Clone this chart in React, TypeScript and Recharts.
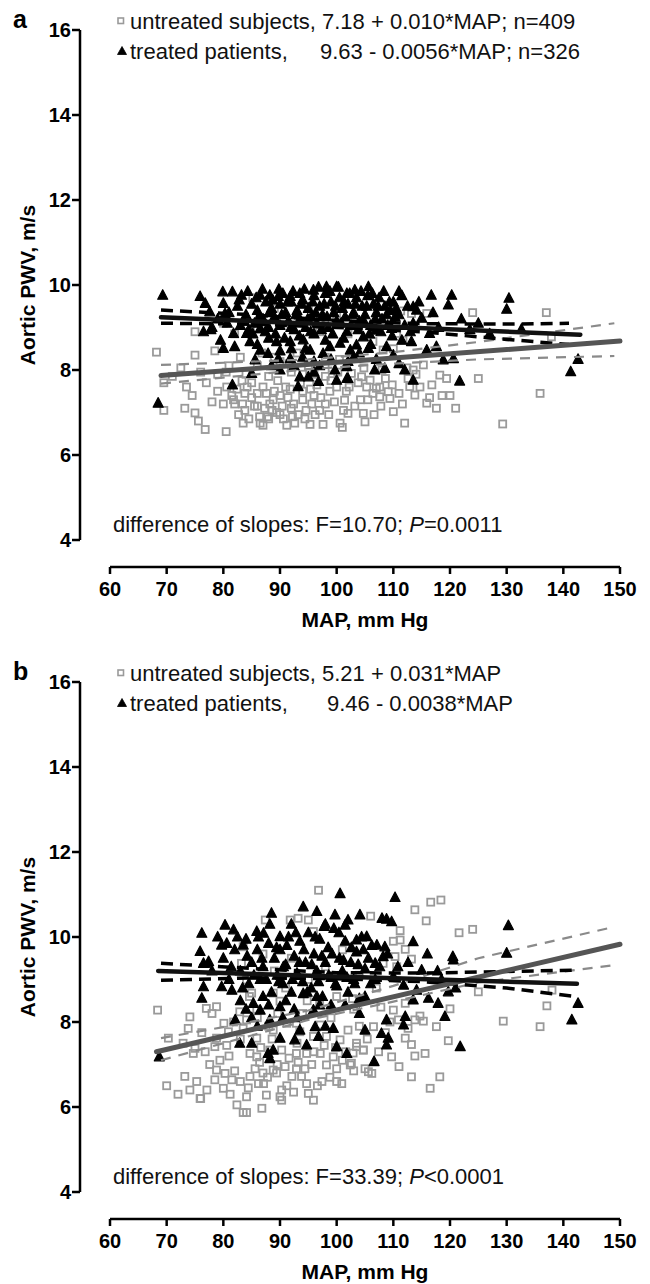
import React from 'react';
import { ScatterChart, Scatter, XAxis, YAxis } from 'recharts';

// MAP (x) and aortic PWV (y)
const xTicks = [60, 70, 80, 90, 100, 110, 120, 130, 140, 150];
const yTicks = [4, 6, 8, 10, 12, 14, 16];

const aUntreated = [
  [68.2, 8.42], [69.5, 7.05], [73.2, 7.1], [74.5, 7.4], [73.5, 7.6], [75, 8.35], [75, 8.9], [75, 6.99], [75.6, 6.8], [76.8, 6.6],
  [78.5, 8.45], [79, 7.5], [80, 7.2], [80.5, 6.55], [80.6, 7.6], [81.5, 7.4], [82, 7.2], [82.4, 7.55], [83.3, 7.75], [83.8, 7.45],
  [83.8, 7.05], [83.5, 6.75], [85, 7.35], [84.5, 6.85], [85.2, 9.7], [86, 7.15], [86.5, 6.75], [87, 6.7], [87.3, 7.1], [87.8, 6.9],
  [88.2, 7.2], [88.8, 7.3], [89.4, 7.0], [90, 7.4], [90.6, 6.85], [91.2, 6.7], [91.8, 7.55], [92.4, 7.2], [92.6, 6.75], [93.2, 6.95],
  [94, 7.5], [94.4, 6.85], [95.3, 6.72], [95.6, 7.2], [96.5, 7.65], [97, 7.05], [97.6, 6.72], [98.8, 7.5], [99.2, 8.05], [100, 7.6],
  [100.6, 6.75], [101, 6.65], [101.4, 7.29], [101.7, 7.5], [102, 6.98], [102.6, 7.92], [103.2, 8.43], [104.4, 7.84], [104.7, 6.98], [105, 6.78],
  [105.3, 7.6], [105.9, 7.76], [106.4, 7.45], [106.4, 8.67], [107, 7.57], [107.6, 7.37], [107.6, 7.6], [108.2, 8.47], [109.1, 7.49], [109.4, 7.33],
  [110, 8.5], [110, 7.02], [110.6, 8.86], [111.3, 9.39], [111.7, 8.7], [112, 6.75], [112.6, 7.8], [112.9, 7.61], [113.2, 9.33], [113.5, 8.0],
  [113.8, 7.41], [114.7, 7.6], [115.3, 8.12], [115.9, 9.33], [115.9, 7.22], [116.4, 7.35], [117.6, 7.1], [118.2, 7.88], [119.4, 7.8], [120, 7.4],
  [124, 9.35], [125, 7.8], [129.3, 6.73], [135.9, 7.45], [137, 9.35], [137.9, 8.78],
  [84, 7.9], [86, 8.1], [88, 7.85], [90, 8.2], [92, 7.95], [93, 8.4], [95, 8.1], [96, 7.9], [98, 8.3], [99, 7.75],
  [91, 7.6], [89, 7.5], [87, 7.6], [85, 7.7], [94, 7.3], [96, 7.4], [98, 7.2], [92, 7.1], [90, 6.95], [88, 6.85],
  [86, 7.45], [83, 8.3], [81, 8.1], [79, 7.9], [77, 7.7], [80, 9.1], [82, 8.85], [86, 8.95], [92, 9.0], [97, 8.9],
  [102, 8.85], [100, 9.3], [95, 9.5], [89, 9.45], [76, 7.95], [78, 7.25], [71, 7.85], [72.5, 8.05], [69.5, 7.7],
  [80.5, 7.95], [81.8, 7.3], [82.7, 6.95], [84.2, 7.6], [85.5, 7.15], [86.4, 6.9], [87.6, 7.45], [88.6, 7.05], [89.6, 7.75], [90.4, 7.15],
  [91.4, 7.35], [92.2, 6.9], [93.6, 7.7], [94.6, 7.05], [95.4, 7.55], [96.2, 6.95], [97.2, 7.35], [98, 7.85], [98.6, 6.95], [99.6, 7.25],
  [100.2, 7.95], [101.2, 7.05], [102.2, 7.6], [103.2, 7.15], [103.8, 7.7], [104.2, 7.3], [105.5, 7.3], [106.6, 6.95], [107.8, 7.15], [108.6, 7.8],
  [109.8, 7.65], [111, 7.45], [111.6, 7.2], [112.4, 8.05], [114, 7.9], [116.8, 7.65], [118.6, 7.4], [121, 7.1], [89, 8.3], [94, 7.9],
  [100.5, 8.25], [104.8, 8.05], [108, 8.0], [83.4, 7.2], [86.8, 8.4], [91.6, 8.15],
];

const aTreated = [
  [68.5, 7.22], [69.3, 9.76], [75.9, 9.73], [76.8, 9.57], [77.6, 9.37], [76.5, 8.9], [79.9, 9.84], [81.6, 9.84], [83.2, 9.76], [80, 9.57],
  [80.3, 9.33], [80, 8.51], [82, 8.55], [81.8, 8.86], [84.7, 8.67], [86.5, 9.76], [88.2, 9.76], [89.7, 9.73], [91.8, 9.73], [93.5, 9.8],
  [95.9, 9.88], [98.2, 9.96], [100, 9.96], [101.8, 9.8], [103.2, 9.88], [86.5, 8.47], [87.9, 8.39], [89.7, 8.27], [91.8, 8.27], [93.5, 7.84],
  [93.2, 7.61], [95, 7.84], [96.8, 7.73], [100, 7.76], [101.8, 7.8], [101.8, 8.08], [99.7, 8.0], [97.6, 8.39], [95.3, 8.47], [98.8, 8.55],
  [100.6, 8.63], [102.4, 8.47], [85.6, 8.24], [85, 7.92], [81.6, 7.65], [84.1, 8.86], [86.5, 8.98], [89.4, 8.67], [91.8, 8.67], [94.1, 8.71],
  [105.6, 9.96], [116.7, 9.76], [120.3, 9.76], [119.7, 9.53], [130.4, 9.69], [130, 9.43], [132.6, 8.96], [142.6, 8.25], [141.3, 7.96], [121.7, 7.74],
  [120.6, 8.27], [117.6, 8.55], [113.5, 7.76], [112, 8.0], [113.2, 8.67], [114.1, 9.41], [115, 9.22], [113.5, 9.49], [110.3, 9.25], [111.5, 8.7],
  [108.8, 8.55], [108.5, 8.04], [106.7, 8.0], [102, 7.8], [105.6, 8.51], [103.5, 8.59], [101.2, 8.75], [104.7, 8.78], [107, 8.94], [109.7, 8.98],
  [113.5, 9.1], [116.4, 8.86], [118.8, 8.24], [115.9, 8.47],
  [84, 9.3], [85, 9.55], [85.5, 9.1], [86, 9.4], [87, 9.2], [87.5, 9.6], [88, 9.0], [88.5, 9.45], [89, 9.25], [90, 9.55],
  [90, 9.05], [90.5, 9.8], [91, 9.35], [91.5, 9.15], [92, 9.6], [92.5, 8.95], [93, 9.4], [93.5, 9.2], [94, 9.65], [94.5, 9.0],
  [95, 9.45], [95.5, 9.25], [96, 9.75], [96.5, 9.1], [97, 9.5], [97.5, 9.3], [98, 9.8], [98.5, 9.0], [99, 9.6], [99.5, 9.35],
  [100, 9.15], [100.5, 9.7], [101, 9.45], [101.5, 9.25], [102, 9.55], [102.5, 9.05], [103, 9.35], [103.5, 9.7], [104, 9.15], [104.5, 9.5],
  [105, 9.3], [105.5, 9.75], [106, 9.05], [106.5, 9.55], [107, 9.35], [107.5, 9.7], [108, 9.2], [108.5, 9.5], [109, 9.05], [109.5, 9.4],
  [110, 9.6], [111, 9.3], [111.5, 9.75], [112, 9.05], [79, 9.2], [78, 9.0], [82.5, 9.5], [83, 9.05], [84.5, 8.95], [96, 8.85],
  [98, 8.7], [92, 8.5], [94, 8.3], [97, 8.1], [90, 8.0], [88, 8.75], [106, 8.6], [110, 8.35], [103, 8.3], [96, 7.95], [92.5, 8.1],
  [82.8, 9.65], [83.6, 9.15], [84.3, 9.85], [85.2, 8.85], [85.8, 9.7], [86.3, 9.25], [86.9, 9.9], [87.4, 8.9], [88.1, 9.35], [88.7, 9.65],
  [89.2, 8.85], [89.8, 9.9], [90.3, 9.3], [90.8, 8.75], [91.3, 9.6], [91.9, 9.0], [92.3, 9.85], [92.8, 9.3], [93.4, 8.8], [93.8, 9.55],
  [94.3, 9.9], [94.9, 9.2], [95.4, 8.9], [95.8, 9.6], [96.3, 9.35], [96.8, 9.95], [97.3, 8.95], [97.8, 9.55], [98.3, 9.25], [98.8, 9.85],
  [99.3, 8.85], [99.8, 9.5], [100.3, 9.95], [100.8, 9.1], [101.3, 9.6], [101.8, 8.9], [102.3, 9.8], [102.8, 9.3], [103.3, 9.55], [103.8, 8.95],
  [104.3, 9.85], [104.8, 9.15], [105.3, 9.5], [105.8, 8.85], [106.3, 9.8], [106.8, 9.2], [107.3, 9.5], [107.8, 8.9], [108.3, 9.85], [108.8, 9.3],
  [109.3, 9.6], [109.8, 8.8], [110.5, 9.45], [111, 9.85], [112.5, 9.5], [113, 8.9], [114.5, 9.6], [117, 9.35], [118, 9.0], [122, 9.2],
  [123.5, 8.95], [125, 9.1], [127, 8.85], [81, 9.35], [79.5, 8.7], [77.8, 8.95], [80.7, 9.1], [86, 8.6], [90, 8.45], [94.5, 8.5],
  [99, 8.25], [104, 8.4], [107, 8.25], [111, 8.15], [96, 8.2], [88.5, 8.1], [102, 8.2],
];

const bUntreated = [
  [68.4, 8.28], [70, 6.5], [73.2, 6.72], [74.1, 6.4], [75.3, 6.6], [75.9, 6.2], [77.1, 6.4], [80, 6.44], [82.4, 6.05], [83.5, 5.87],
  [84.1, 5.87], [86.8, 5.97], [84.1, 6.24], [87.6, 6.28], [90, 6.24], [90.3, 6.16], [86.2, 6.55], [87.1, 6.55], [84.7, 6.72], [85.6, 6.9],
  [88.8, 6.87], [90.9, 6.95], [92.9, 6.9], [94.7, 6.55], [95, 6.32], [95.9, 6.16], [93.8, 6.72], [97.4, 6.6], [98.2, 6.99], [100, 6.9],
  [100.9, 6.55], [102.4, 6.99], [105, 6.9], [92.1, 6.72], [91.2, 6.5], [90.3, 6.4], [78.8, 6.87], [80.3, 6.79], [81.5, 6.64], [78.5, 6.64],
  [74.7, 7.26], [75, 7.38], [76.8, 7.3], [78.5, 7.42], [78.8, 7.62], [80.1, 7.97], [80.9, 7.77], [81.8, 8.0], [83.5, 7.85], [84.1, 8.05],
  [82.9, 8.24], [74.1, 8.12], [77, 8.32], [78.8, 8.36], [78, 8.2], [70.3, 7.62], [72.9, 7.5], [87.4, 10.4], [91.8, 10.4], [93.2, 10.44],
  [95, 10.4], [96.8, 11.1], [95.9, 10.13], [83.5, 9.77], [83.2, 9.38], [84.1, 8.99], [85, 8.68], [85.9, 8.3], [88.8, 8.68], [90, 8.49],
  [91.2, 7.97], [93.5, 7.77], [95.9, 7.66], [98.2, 7.66], [100.6, 7.58], [102, 7.81], [103.5, 7.5], [104.7, 7.34], [102.9, 7.27], [99.4, 7.18],
  [97.1, 7.26], [94.7, 7.26], [92.9, 7.26], [90.3, 7.34], [88.2, 7.34], [85.9, 7.18], [84.7, 7.26], [85.9, 7.62], [88.8, 7.81], [92.9, 7.97],
  [97.1, 7.93], [106, 10.49], [113.8, 10.64], [116.6, 10.82], [118.4, 10.87], [115.8, 10.38], [121.6, 10.1], [124, 10.18], [111.2, 10.15], [111.2, 9.93],
  [110, 9.9], [112.1, 9.71], [110.3, 9.54], [113.2, 9.48], [108.2, 9.38], [110.6, 9.3], [138, 8.75], [137.1, 8.38], [129.4, 8.02], [135.9, 7.89],
  [120, 8.31], [117.6, 7.89], [115.3, 8.02], [113.8, 8.05], [114.7, 8.14], [119.7, 7.56], [113.2, 7.47], [112.1, 7.62], [115.6, 7.26], [113.8, 7.2],
  [109.7, 7.18], [113.2, 6.71], [118.2, 6.71], [110, 8.28], [109.4, 8.0], [110.9, 8.05], [106.5, 7.89], [116.5, 6.44], [112.1, 8.44], [105.6, 6.83],
  [106.2, 6.79], [104.7, 7.34], [103.5, 7.42], [102.6, 7.03], [125, 8.71],
  [89, 9.2], [92, 9.5], [95, 9.0], [98, 9.3], [101, 9.7], [104, 9.1], [107, 8.8], [100, 8.6], [97, 8.4], [94, 8.2],
  [91, 8.8], [87, 9.6], [99, 8.1], [103, 8.3], [96, 7.3], [89.5, 7.0], [87, 6.8], [93, 7.5], [101, 7.1], [100, 6.6],
  [83, 6.6], [81, 7.2], [88, 7.9], [86, 8.1], [76, 6.2], [72, 6.3],
  [80.6, 7.45], [82, 6.85], [83, 7.6], [84.4, 6.45], [86.4, 7.05], [87.8, 6.7], [88.6, 7.6], [89.4, 6.8], [91.6, 7.15], [92.4, 6.35],
  [93.2, 7.05], [94.4, 6.9], [95.6, 7.0], [96.6, 6.5], [97.8, 7.45], [98.8, 6.7], [99.8, 7.4], [101.6, 7.3], [103, 6.85], [104, 7.9],
  [105.4, 7.6], [107.4, 7.3], [108.6, 7.75], [111, 6.95], [112.6, 7.85], [86.6, 7.4], [79.4, 7.1], [81.2, 6.3], [77.6, 7.0], [76.2, 7.75],
  [73.8, 7.85], [89.6, 8.2], [94.8, 8.5], [102.8, 8.55], [107.8, 8.35], [84.6, 8.6],
];

const bTreated = [
  [68.7, 7.18], [76.2, 10.09], [75.9, 9.66], [76.5, 9.38], [77.4, 9.42], [79.7, 9.81], [80.3, 10.28], [81.8, 10.17], [83.5, 9.81], [85.9, 10.13],
  [87.1, 10.09], [88.5, 10.56], [90, 10.01], [94.1, 10.71], [96.5, 10.6], [99.7, 10.52], [100.6, 11.02], [101.5, 10.28], [104.1, 10.52], [76.5, 8.83],
  [76.2, 8.56], [79.7, 8.83], [81.5, 8.75], [82.1, 8.05], [82.9, 7.5], [85, 7.5], [87.9, 7.26], [88.2, 7.14], [88.8, 7.34], [90, 7.62],
  [92.6, 7.58], [93.5, 7.81], [94.7, 7.46], [96.8, 7.66], [100, 7.42], [101.8, 7.26], [99.4, 7.85], [96.2, 7.89], [95.9, 8.28], [94.1, 8.67],
  [90, 8.36], [88.2, 8.05], [86.5, 8.28], [85.3, 8.44], [110.3, 10.93], [108, 10.44], [108.8, 10.42], [109.7, 10.36], [113.5, 9.89], [108.5, 9.77],
  [130.3, 10.27], [130, 9.62], [120.5, 9.54], [120.6, 9.46], [115, 9.22], [117.8, 9.2], [119.7, 8.71], [117.9, 8.44], [119.1, 8.13], [116.2, 8.56],
  [113.5, 8.52], [112.1, 8.13], [111.8, 7.93], [108.8, 8.05], [107.9, 7.73], [109.1, 7.62], [108.8, 7.46], [105, 7.81], [121.8, 7.42], [106.6, 7.07],
  [142.6, 8.44], [141.5, 8.05], [103.5, 9.93], [105.3, 10.01], [107.1, 9.81], [108.2, 9.54], [104.7, 9.7], [106.8, 9.38], [110, 9.07], [111.8, 8.87],
  [114.1, 8.75],
  [80, 9.5], [81, 9.0], [82, 9.7], [83, 9.2], [84, 9.95], [84.5, 8.9], [85, 9.4], [86, 9.7], [86.5, 9.0], [87, 9.3],
  [88, 9.85], [88.5, 8.7], [89, 9.5], [89.5, 9.1], [90, 9.7], [90.5, 8.9], [91, 9.35], [91.5, 10.0], [92, 8.7], [92.5, 9.55],
  [93, 9.15], [93.5, 9.9], [94, 8.95], [94.5, 9.4], [95, 10.1], [95.5, 8.8], [96, 9.6], [96.5, 9.2], [97, 9.95], [97.5, 8.6],
  [98, 9.4], [98.5, 9.75], [99, 9.05], [99.5, 10.2], [100, 8.85], [100.5, 9.5], [101, 9.2], [101.5, 9.9], [102, 8.7], [102.5, 9.4],
  [103, 9.0], [103.5, 9.65], [104, 8.55], [105, 9.25], [106, 8.9], [83, 8.5], [87, 8.6], [91, 8.5], [97, 8.4], [78, 9.2],
  [79, 10.0], [102, 10.4], [98, 10.3], [92, 10.3], [85, 8.1], [93, 8.1], [104, 8.2], [99, 8.4],
  [80.6, 9.85], [81.4, 9.3], [82.5, 10.0], [83.4, 8.8], [84.2, 9.55], [85.4, 9.1], [86.2, 10.0], [86.8, 9.5], [87.6, 9.0], [88.2, 10.3],
  [89.4, 9.75], [89.8, 8.95], [90.6, 9.3], [91.2, 9.8], [92.2, 9.0], [92.8, 10.1], [93.4, 9.4], [94.2, 9.7], [94.8, 8.7], [95.6, 9.35],
  [96.2, 10.0], [96.8, 8.95], [97.4, 9.55], [97.8, 10.25], [98.6, 9.1], [99.2, 9.6], [99.8, 8.9], [100.4, 10.1], [101.2, 9.45], [101.8, 9.05],
  [102.6, 9.75], [103.2, 8.9], [103.8, 9.35], [104.4, 10.0], [105.6, 9.5], [106.2, 9.8], [106.8, 9.0], [107.6, 9.3], [109, 9.6], [110.8, 9.3],
  [112.6, 9.4], [116, 9.6], [118.5, 9.0], [121, 8.8], [84, 8.3], [88, 8.4], [92.5, 8.3], [96.5, 8.6], [101.5, 8.4], [105, 8.6],
  [90.5, 8.1], [98, 7.9], [86, 7.9],
];

// regression lines and their 95% bands
const aFitUntreated = [[69, 7.87], [150, 8.68]];
const aUpUntreated = [[69, 8.12], [80, 8.17], [95, 8.25], [110, 8.42], [125, 8.66], [149, 9.1]];
const aLoUntreated = [[69, 7.68], [80, 7.82], [95, 8.02], [110, 8.15], [125, 8.25], [149, 8.33]];
const aFitTreated = [[69, 9.24], [143, 8.83]];
const aUpTreated = [[69, 9.41], [85, 9.3], [100, 9.16], [115, 9.09], [130, 9.08], [141, 9.1]];
const aLoTreated = [[69, 9.1], [85, 9.08], [100, 9.0], [115, 8.9], [130, 8.72], [141, 8.6]];

const bFitUntreated = [[68.2, 7.3], [150, 9.83]];
const bUpUntreated = [[69, 7.62], [80, 7.88], [95, 8.27], [110, 8.85], [125, 9.5], [149, 10.24]];
const bLoUntreated = [[69, 7.1], [80, 7.5], [95, 8.05], [110, 8.48], [125, 8.93], [149, 9.34]];
const bFitTreated = [[68.5, 9.2], [142.4, 8.9]];
const bUpTreated = [[69, 9.38], [85, 9.26], [100, 9.16], [115, 9.15], [130, 9.19], [142, 9.22]];
const bLoTreated = [[69, 8.98], [85, 9.04], [100, 9.02], [115, 8.95], [130, 8.8], [142, 8.6]];

const pts = (arr: number[][]) => arr.map(([x, y]) => ({ x, y }));

const FONT = '"Liberation Sans", Arial, Helvetica, sans-serif';

const Square = (p: any) => (
  <rect x={p.cx - 3.5} y={p.cy - 3.5} width={7} height={7} fill="none" stroke="#9a9a9a" strokeWidth={1.8} />
);
const Triangle = (p: any) => (
  <polygon points={`${p.cx},${p.cy - 5.5} ${p.cx - 5},${p.cy + 4} ${p.cx + 5},${p.cy + 4}`} fill="#000" stroke="#000" strokeWidth={1.2} strokeLinejoin="round" />
);
const NoDot = () => <g />;

interface PanelProps {
  letter: string;
  top: number;
  height: number;
  untreatedText: string;
  treatedText: string;
  treatedTextX: number;
  note: React.ReactNode;
  untreated: number[][];
  treated: number[][];
  fitU: number[][];
  upU: number[][];
  loU: number[][];
  fitT: number[][];
  upT: number[][];
  loT: number[][];
}

const legendText: React.CSSProperties = {
  position: 'absolute', fontSize: 22, lineHeight: '24px', fontFamily: FONT, whiteSpace: 'nowrap', color: '#111',
};

const Panel: React.FC<PanelProps> = (p) => {
  const tickStyle = { fontSize: 20, fontWeight: 'bold', fill: '#000', fontFamily: FONT };
  return (
    <div style={{ position: 'absolute', left: 0, top: p.top, width: 650, height: p.height }}>
      <ScatterChart width={650} height={652} margin={{ top: 30, right: 30, bottom: 25, left: 0 }}>
        <XAxis
          type="number" dataKey="x" domain={[60, 150]} ticks={xTicks} interval={0}
          height={60} padding={{ left: 30, right: 0 }} tickSize={7} tickMargin={8}
          axisLine={{ stroke: '#000', strokeWidth: 2.5, strokeDasharray: '0 30 510 200' }}
          tickLine={{ stroke: '#000', strokeWidth: 2.5 }} tick={tickStyle}
        />
        <YAxis
          type="number" dataKey="y" domain={[4, 16]} ticks={yTicks} interval={0}
          width={80} padding={{ top: 0, bottom: 27 }} tickSize={8} tickMargin={1}
          axisLine={{ stroke: '#000', strokeWidth: 2.5, strokeDasharray: '510 200' }}
          tickLine={{ stroke: '#000', strokeWidth: 2.5 }} tick={tickStyle}
        />
        <Scatter data={pts(p.untreated)} shape={Square} isAnimationActive={false} />
        <Scatter data={pts(p.treated)} shape={Triangle} isAnimationActive={false} />
        <Scatter data={pts(p.upU)} shape={NoDot} line={{ stroke: '#8a8a8a', strokeWidth: 2.2, strokeDasharray: '10 8' }} isAnimationActive={false} />
        <Scatter data={pts(p.loU)} shape={NoDot} line={{ stroke: '#8a8a8a', strokeWidth: 2.2, strokeDasharray: '10 8' }} isAnimationActive={false} />
        <Scatter data={pts(p.upT)} shape={NoDot} line={{ stroke: '#000', strokeWidth: 3.5, strokeDasharray: '12 7' }} isAnimationActive={false} />
        <Scatter data={pts(p.loT)} shape={NoDot} line={{ stroke: '#000', strokeWidth: 3.5, strokeDasharray: '12 7' }} isAnimationActive={false} />
        <Scatter data={pts(p.fitU)} shape={NoDot} line={{ stroke: '#555', strokeWidth: 5, strokeLinecap: 'round' }} isAnimationActive={false} />
        <Scatter data={pts(p.fitT)} shape={NoDot} line={{ stroke: '#111', strokeWidth: 4.5, strokeLinecap: 'round' }} isAnimationActive={false} />
      </ScatterChart>

      <div style={{ position: 'absolute', left: 13, top: 4, fontSize: 25, lineHeight: '30px', fontWeight: 'bold', fontFamily: FONT }}>{p.letter}</div>

      <svg style={{ position: 'absolute', left: 116, top: 16 }} width={10} height={10}>
        <rect x={2} y={2} width={5.5} height={5.5} fill="none" stroke="#9a9a9a" strokeWidth={1.6} />
      </svg>
      <div style={{ ...legendText, left: 130, top: 10 }}>{p.untreatedText}</div>

      <svg style={{ position: 'absolute', left: 116, top: 45 }} width={12} height={12}>
        <polygon points="6,1.5 1.5,9.5 10.5,9.5" fill="#000" stroke="#000" strokeWidth={0.8} strokeLinejoin="round" />
      </svg>
      <div style={{ ...legendText, left: 130, top: 40 }}>treated patients,</div>
      <div style={{ ...legendText, left: p.treatedTextX, top: 40 }}>{p.treatedText}</div>

      <div style={{ ...legendText, left: 113, top: 513 }}>{p.note}</div>

      <div style={{ position: 'absolute', left: 28, top: 285, transform: 'translate(-50%, -50%) rotate(-90deg)', fontSize: 21, fontWeight: 'bold', fontFamily: FONT, whiteSpace: 'nowrap' }}>
        Aortic PWV, m/s
      </div>
      <div style={{ position: 'absolute', left: 365, top: 620, transform: 'translate(-50%, -50%)', fontSize: 21, fontWeight: 'bold', fontFamily: FONT, whiteSpace: 'nowrap' }}>
        MAP, mm Hg
      </div>
    </div>
  );
};

export default function App() {
  return (
    <div style={{ position: 'absolute', left: 0, top: 0, width: 650, height: 1284, background: '#fff', overflow: 'hidden' }}>
      <Panel
        letter="a" top={0} height={652}
        untreatedText="untreated subjects, 7.18 + 0.010*MAP; n=409"
        treatedText="9.63 - 0.0056*MAP; n=326" treatedTextX={320}
        note={<>difference of slopes: F=10.70; <i>P</i>=0.0011</>}
        untreated={aUntreated} treated={aTreated}
        fitU={aFitUntreated} upU={aUpUntreated} loU={aLoUntreated}
        fitT={aFitTreated} upT={aUpTreated} loT={aLoTreated}
      />
      <Panel
        letter="b" top={652} height={632}
        untreatedText="untreated subjects, 5.21 + 0.031*MAP"
        treatedText="9.46 - 0.0038*MAP" treatedTextX={327}
        note={<>difference of slopes: F=33.39; <i>P</i>&lt;0.0001</>}
        untreated={bUntreated} treated={bTreated}
        fitU={bFitUntreated} upU={bUpUntreated} loU={bLoUntreated}
        fitT={bFitTreated} upT={bUpTreated} loT={bLoTreated}
      />
    </div>
  );
}
